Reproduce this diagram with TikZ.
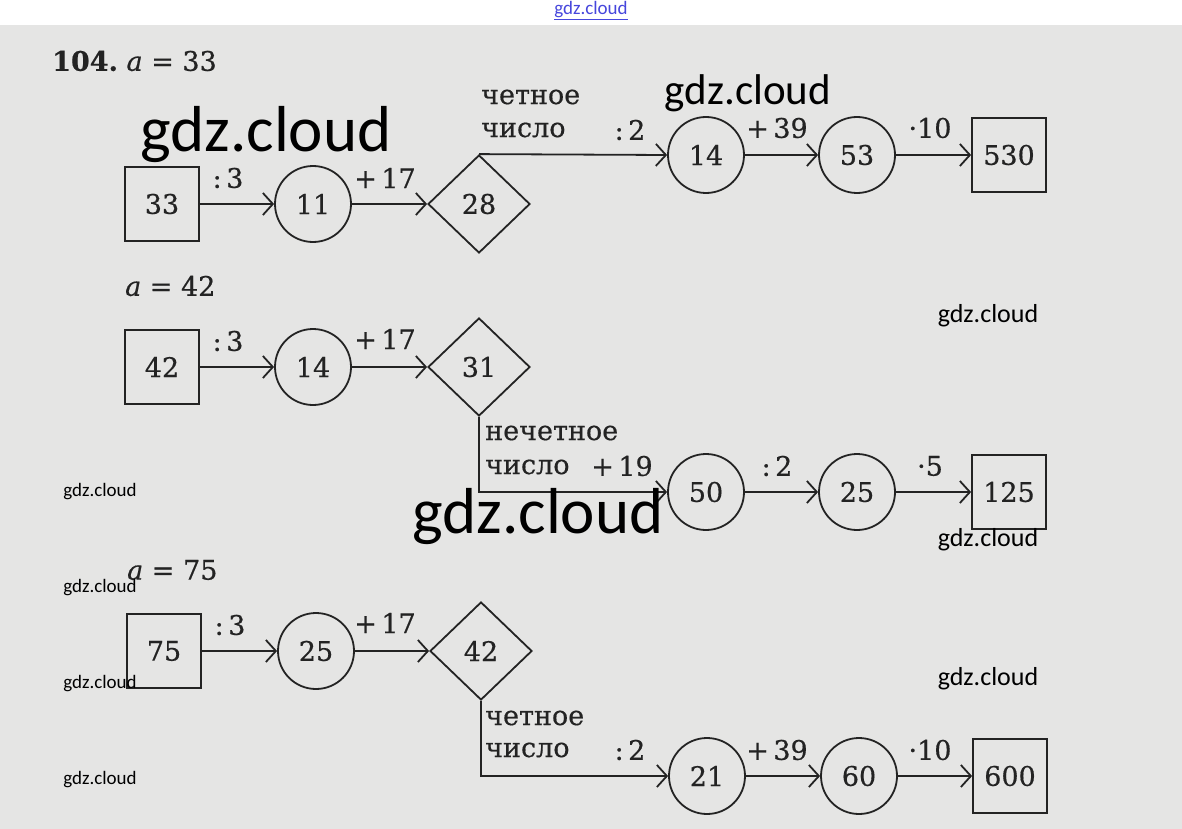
\documentclass[tikz,border=0pt]{standalone}
\usepackage{fontspec}
\setmainfont{DejaVu Serif}[FakeBold=0.5]
\newfontfamily\wm{Carlito}
\usetikzlibrary{shapes.geometric,arrows.meta}
\definecolor{paper}{RGB}{229,229,228}
\definecolor{ink}{RGB}{35,35,35}
\definecolor{linkblue}{RGB}{70,70,220}
\tikzset{
  txt/.style={font=\fontsize{27}{30}\selectfont, text=ink, inner sep=0pt},
  lbl/.style={txt, anchor=center},
  sq/.style={draw=ink, line width=1.8pt, minimum width=74pt, minimum height=74pt, inner sep=0pt, txt},
  cir/.style={draw=ink, line width=1.8pt, circle, minimum size=76pt, inner sep=0pt, txt},
  dia/.style={draw=ink, line width=1.8pt, diamond, minimum width=102pt, minimum height=98pt, inner sep=0pt, txt},
  arr/.style={draw=ink, line width=1.8pt, -{Straight Barb[length=10pt,width=22pt,line width=1.8pt]}},
  wmk/.style={text=black, inner sep=0pt, anchor=center},
}
\begin{document}
\begin{tikzpicture}[x=1pt,y=-1pt]
\useasboundingbox (0,0) rectangle (1182,829);
\fill[white] (0,0) rectangle (1182,25);
\fill[paper] (0,25) rectangle (1182,829);

% headers
\node[txt, anchor=west] (h1) at (52,61) {\textbf{104.}\ \textit{a} = 33};
\node[txt, anchor=west] (h2) at (125,286) {\textit{a} = 42};
\node[txt, anchor=west] (h3) at (127,570) {\textit{a} = 75};

% row 1
\node[sq]  (s33)  at (162,204) {33};
\node[cir] (c11)  at (313,204) {11};
\node[dia] (d28)  at (479,204) {28};
\node[cir] (c14)  at (706,155) {14};
\node[cir] (c53)  at (857,155) {53};
\node[sq]  (s530) at (1009,155) {530};
\draw[arr] (s33) -- (c11);
\draw[arr] (c11) -- (d28);
\draw[arr] (d28.north) -- (c14.west);
\draw[arr] (c14) -- (c53);
\draw[arr] (c53) -- (s530);
\node[txt, anchor=west] (l1a) at (481,97) {четное};
\node[txt, anchor=west] (l1b) at (481,130) {число};
\node[lbl] (o1a) at (228,178) {:\,3};
\node[lbl] (o1b) at (385,178) {+\,17};
\node[lbl] (o1c) at (630,130) {:\,2};
\node[lbl] (o1d) at (777,128) {+\,39};
\node[lbl] (o1e) at (930,128) {·10};

% row 2
\node[sq]  (s42)  at (162,367) {42};
\node[cir] (c14b) at (313,367) {14};
\node[dia] (d31)  at (479,367) {31};
\node[cir] (c50)  at (706,492) {50};
\node[cir] (c25)  at (857,492) {25};
\node[sq]  (s125) at (1009,492) {125};
\draw[arr] (s42) -- (c14b);
\draw[arr] (c14b) -- (d31);
\draw[arr] (d31.south) |- (c50.west);
\draw[arr] (c50) -- (c25);
\draw[arr] (c25) -- (s125);
\node[txt, anchor=west] (l2a) at (485,433) {нечетное};
\node[txt, anchor=west] (l2b) at (485,467) {число};
\node[lbl] (o2a) at (228,341) {:\,3};
\node[lbl] (o2b) at (385,339) {+\,17};
\node[lbl] (o2c) at (622,466) {+\,19};
\node[lbl] (o2d) at (777,466) {:\,2};
\node[lbl] (o2e) at (930,466) {·5};

% row 3
\node[sq]  (s75)  at (164,651) {75};
\node[cir] (c25b) at (316,651) {25};
\node[dia] (d42)  at (481,651) {42};
\node[cir] (c21)  at (707,776) {21};
\node[cir] (c60)  at (859,776) {60};
\node[sq]  (s600) at (1010,776) {600};
\draw[arr] (s75) -- (c25b);
\draw[arr] (c25b) -- (d42);
\draw[arr] (d42.south) |- (c21.west);
\draw[arr] (c21) -- (c60);
\draw[arr] (c60) -- (s600);
\node[txt, anchor=west] (l3a) at (485,718) {четное};
\node[txt, anchor=west] (l3b) at (485,750) {число};
\node[lbl] (o3a) at (230,625) {:\,3};
\node[lbl] (o3b) at (385,623) {+\,17};
\node[lbl] (o3c) at (630,750) {:\,2};
\node[lbl] (o3d) at (777,750) {+\,39};
\node[lbl] (o3e) at (930,750) {·10};

% watermarks
\node[wmk, text=linkblue, font=\wm\fontsize{19}{20}\selectfont] (w0) at (591,11) {\underline{gdz.cloud}};
\node[wmk, font=\wm\fontsize{65}{70}\selectfont] (w1) at (266,135) {gdz.cloud};
\node[wmk, font=\wm\fontsize{43}{46}\selectfont] (w2) at (748,93) {gdz.cloud};
\node[wmk, font=\wm\fontsize{26}{28}\selectfont] (w3) at (988,316) {gdz.cloud};
\node[wmk, font=\wm\fontsize{19}{20}\selectfont] (w4) at (100,492) {gdz.cloud};
\node[wmk, font=\wm\fontsize{65}{70}\selectfont] (w5) at (538,517) {gdz.cloud};
\node[wmk, font=\wm\fontsize{26}{28}\selectfont] (w6) at (988,540) {gdz.cloud};
\node[wmk, font=\wm\fontsize{19}{20}\selectfont] (w7) at (100,588) {gdz.cloud};
\node[wmk, font=\wm\fontsize{19}{20}\selectfont] (w8) at (100,684) {gdz.cloud};
\node[wmk, font=\wm\fontsize{26}{28}\selectfont] (w9) at (988,679) {gdz.cloud};
\node[wmk, font=\wm\fontsize{19}{20}\selectfont] (w10) at (100,780) {gdz.cloud};
\end{tikzpicture}
\end{document}
